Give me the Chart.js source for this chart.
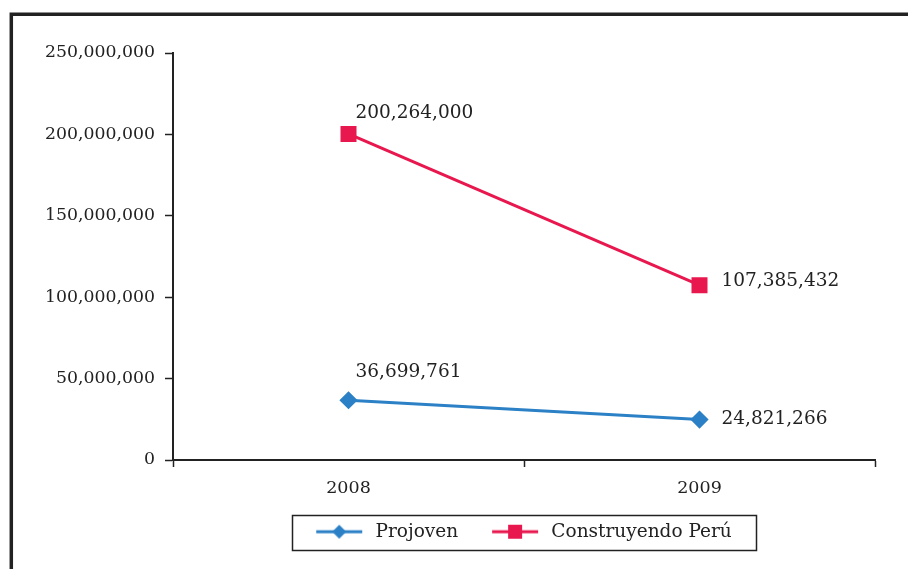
<!DOCTYPE html>
<html lang="es">
<head>
<meta charset="UTF-8">
<title>Projoven y Construyendo Perú</title>
<script src="https://cdn.jsdelivr.net/npm/chart.js"></script>
<style>
    html, body { margin: 0; padding: 0; background: #fff; }
    #wrap { width: 908px; height: 569px; position: relative; }
</style>
</head>
<body>
<div id="wrap"><canvas id="chart"></canvas></div>
<script>
    // data
    const years = ['2008', '2009'];
    const projoven = [36699761, 24821266];
    const construyendoPeru = [200264000, 107385432];
    const yMin = 0, yMax = 250000000, yStep = 50000000;

    const BLUE = '#2b80c6';
    const RED = '#e8184f';
    const INK = '#222';
    const FONT = "'DejaVu Serif', serif";

    const fmt = v => Number(v).toLocaleString('en-US');

    // little "line + marker" picture used as the legend symbol
    function legendSymbol(color, shape) {
        const c = document.createElement('canvas');
        c.width = 74; c.height = 18;
        const g = c.getContext('2d');
        g.strokeStyle = color;
        g.lineWidth = 3;
        g.beginPath(); g.moveTo(24, 9); g.lineTo(70, 9); g.stroke();
        g.fillStyle = color;
        if (shape === 'diamond') {
            g.beginPath();
            g.moveTo(47, 2); g.lineTo(54, 9); g.lineTo(47, 16); g.lineTo(40, 9);
            g.closePath(); g.fill();
        } else {
            g.fillRect(40, 2, 14, 14);
        }
        return c;
    }

    // outer frame (only top and left edges show in the reference)
    const framePlugin = {
        id: 'frame',
        beforeDraw(chart) {
            const ctx = chart.ctx;
            ctx.save();
            ctx.fillStyle = '#fff';
            ctx.fillRect(0, 0, chart.width, chart.height);
            ctx.strokeStyle = INK;
            ctx.lineWidth = 3.5;
            ctx.beginPath();
            ctx.moveTo(11.3, chart.height);
            ctx.lineTo(11.3, 14.3);
            ctx.lineTo(chart.width, 14.3);
            ctx.stroke();
            ctx.restore();
        }
    };

    // value labels next to each point
    const valueLabels = {
        id: 'valueLabels',
        afterDatasetsDraw(chart) {
            const ctx = chart.ctx;
            ctx.save();
            ctx.font = '18.5px ' + FONT;
            ctx.fillStyle = INK;
            ctx.textAlign = 'left';
            ctx.textBaseline = 'middle';
            chart.data.datasets.forEach((ds, di) => {
                chart.getDatasetMeta(di).data.forEach((pt, i) => {
                    let dx, dy;
                    if (i === 0) { dx = 7; dy = di === 0 ? -28 : -21; }
                    else { dx = 22; dy = di === 0 ? 0 : -4; }
                    ctx.fillText(fmt(ds.data[i]), pt.x + dx, pt.y + dy);
                });
            });
            ctx.restore();
        }
    };

    // nudge the legend so its visible part sits centred under the plot
    const legendShift = {
        id: 'legendShift',
        afterLayout(chart) {
            if (chart.legend) {
                chart.legend.left -= 12;
                chart.legend.right -= 12;
            }
        }
    };

    // box round the legend
    const legendBox = {
        id: 'legendBox',
        afterDraw(chart) {
            const boxes = chart.legend && chart.legend.legendHitBoxes;
            if (!boxes || !boxes.length) return;
            const left = Math.min(...boxes.map(b => b.left));
            const right = Math.max(...boxes.map(b => b.left + b.width)) + 24;
            const top = boxes[0].top - 8;
            const bottom = boxes[0].top + boxes[0].height + 8;
            const ctx = chart.ctx;
            ctx.save();
            ctx.strokeStyle = INK;
            ctx.lineWidth = 1.5;
            ctx.strokeRect(Math.round(left) + 0.5, Math.round(top) + 0.5,
                Math.round(right - left), Math.round(bottom - top));
            ctx.restore();
        }
    };

    const symbols = [legendSymbol(BLUE, 'diamond'), legendSymbol(RED, 'square')];

    new Chart(document.getElementById('chart'), {
        type: 'line',
        data: {
            labels: years,
            datasets: [
                {
                    label: 'Projoven',
                    data: projoven,
                    borderColor: BLUE,
                    backgroundColor: BLUE,
                    borderWidth: 3,
                    pointStyle: 'rectRot',
                    pointRadius: 7,
                    pointHoverRadius: 7,
                    tension: 0
                },
                {
                    label: 'Construyendo Perú',
                    data: construyendoPeru,
                    borderColor: RED,
                    backgroundColor: RED,
                    borderWidth: 3,
                    pointStyle: 'rect',
                    pointRadius: 9.2,
                    pointHoverRadius: 9.2,
                    tension: 0
                }
            ]
        },
        options: {
            responsive: true,
            maintainAspectRatio: false,
            animation: false,
            layout: { padding: { left: 0, top: 53, right: 33, bottom: 18 } },
            plugins: {
                tooltip: { enabled: false },
                legend: {
                    position: 'bottom',
                    fullSize: false,
                    labels: {
                        usePointStyle: true,
                        pointStyleWidth: 74,
                        padding: 10,
                        color: INK,
                        font: { family: FONT, size: 18.5 },
                        generateLabels(chart) {
                            return chart.data.datasets.map((ds, i) => ({
                                text: ds.label,
                                fillStyle: ds.borderColor,
                                strokeStyle: ds.borderColor,
                                lineWidth: 0,
                                pointStyle: symbols[i],
                                fontColor: INK,
                                hidden: false,
                                datasetIndex: i
                            }));
                        }
                    }
                }
            },
            scales: {
                x: {
                    offset: true,
                    afterFit(scale) { scale.height = 52.5; },
                    grid: {
                        offset: true,
                        drawOnChartArea: false,
                        drawTicks: true,
                        tickLength: 7,
                        tickWidth: 1.5,
                        tickColor: INK
                    },
                    border: { color: INK, width: 2 },
                    ticks: {
                        color: INK,
                        padding: 11,
                        maxRotation: 0,
                        font: { family: FONT, size: 17.5 }
                    }
                },
                y: {
                    min: yMin,
                    max: yMax,
                    afterFit(scale) { scale.width = 173; },
                    grid: {
                        drawOnChartArea: false,
                        drawTicks: true,
                        tickLength: 8,
                        tickWidth: 1.5,
                        tickColor: INK
                    },
                    border: { color: INK, width: 2 },
                    ticks: {
                        stepSize: yStep,
                        color: INK,
                        padding: 10,
                        font: { family: FONT, size: 17.3 },
                        callback: v => fmt(v)
                    }
                }
            }
        },
        plugins: [framePlugin, valueLabels, legendShift, legendBox]
    });
</script>
</body>
</html>
